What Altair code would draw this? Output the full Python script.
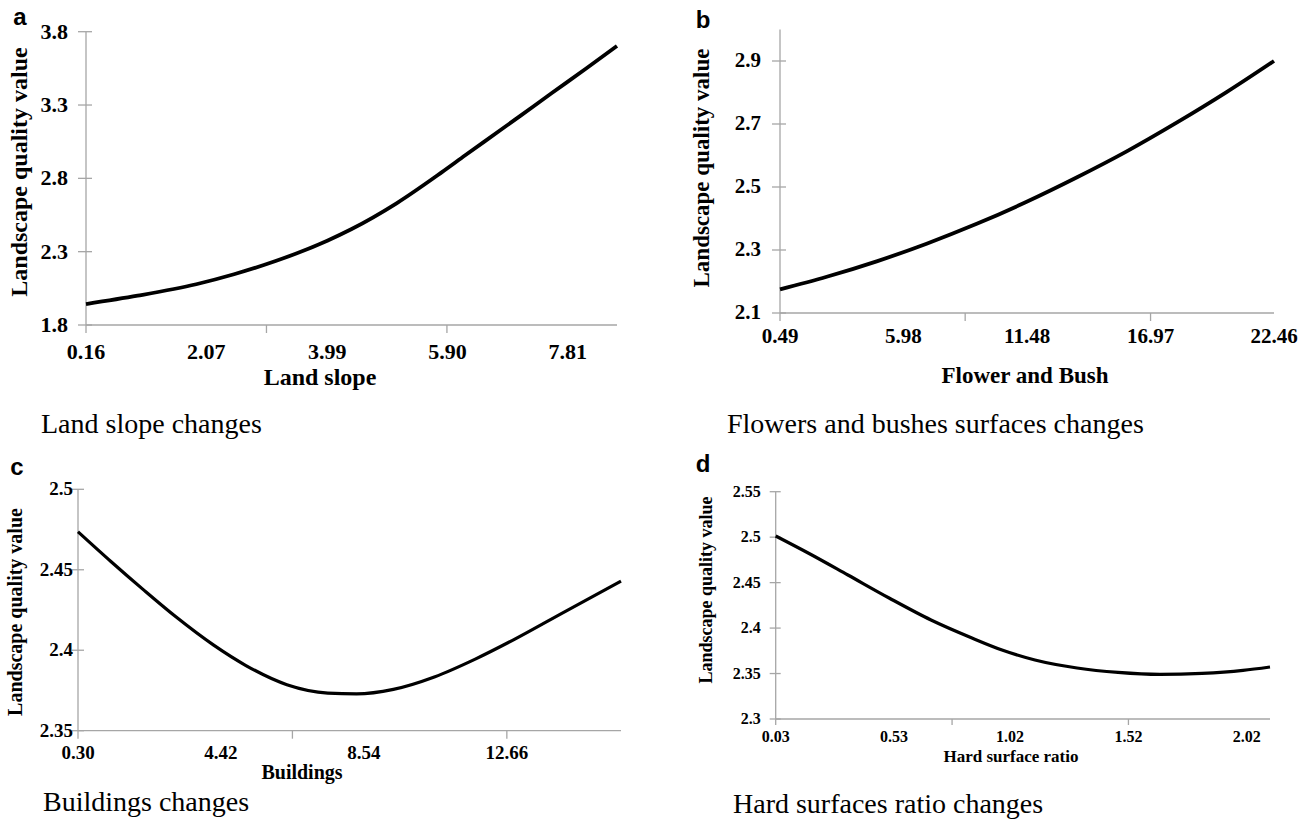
import altair as alt
import pandas as pd

W, H = 1312, 824
SERIF = "Liberation Serif"
SANS = "Liberation Sans"
GRAY = "#a6a6a6"

# ---------------- data ----------------
# a: Land slope
a_x = [0.16, 0.98, 1.91, 2.51, 3.17, 3.99, 4.37, 5.09, 5.80, 6.18, 6.73, 7.06, 7.55, 8.10, 8.59]
a_y = [1.943, 2.000, 2.078, 2.146, 2.236, 2.375, 2.453, 2.630, 2.839, 2.957, 3.126, 3.228, 3.380, 3.549, 3.703]
a_xlabels = [0.16, 2.07, 3.99, 5.90, 7.81]
a_xticks = [0.16, 3.025, 5.89]
a_yticks = [1.8, 2.3, 2.8, 3.3, 3.8]

# b: Flower and Bush
b_x = [0.49, 2.57, 4.79, 7.01, 9.24, 11.46, 13.68, 15.91, 18.13, 20.35, 22.46]
b_y = [2.175, 2.215, 2.264, 2.320, 2.383, 2.453, 2.530, 2.613, 2.704, 2.801, 2.9]
b_xlabels = [0.49, 5.98, 11.48, 16.97, 22.46]
b_xticks = [0.49, 8.725, 16.97]
b_yticks = [2.1, 2.3, 2.5, 2.7, 2.9]

# c: Buildings
c_x = [0.30, 1.24, 2.19, 3.13, 4.20, 5.14, 6.32, 7.50, 8.33, 9.39, 10.57, 11.75, 12.81, 14.35, 15.95]
c_y = [2.4736, 2.4553, 2.4375, 2.4206, 2.4033, 2.3905, 2.3786, 2.3734, 2.3729, 2.3757, 2.3834, 2.3945, 2.4060, 2.4242, 2.4429]
c_xlabels = [0.30, 4.42, 8.54, 12.66]
c_xticks = [0.30, 6.48, 12.66]
c_yticks = [2.35, 2.4, 2.45, 2.5]

# d: Hard surface ratio
d_x = [0.03, 0.175, 0.335, 0.509, 0.686, 0.859, 0.986, 1.125, 1.303, 1.476, 1.653, 1.831, 2.004, 2.118]
d_y = [2.5013, 2.4815, 2.4584, 2.4331, 2.4089, 2.3891, 2.3759, 2.3649, 2.3561, 2.3512, 2.349, 2.3501, 2.3534, 2.3572]
d_xlabels = [0.03, 0.53, 1.02, 1.52, 2.02]
d_xticks = [0.03, 0.775, 1.52]
d_yticks = [2.3, 2.35, 2.4, 2.45, 2.5, 2.55]

letters = ["a", "b", "c", "d"]
x_titles = ["Land slope", "Flower and Bush", "Buildings", "Hard surface ratio"]
y_title = "Landscape quality value"
captions = ["Land slope changes", "Flowers and bushes surfaces changes",
            "Buildings changes", "Hard surfaces ratio changes"]


def panel(xs, ys, xdom, ydom, xlabels, xticks, yticks, yfmt, g):
    x0, x1, ytop, ybot = g["x0"], g["x1"], g["ytop"], g["ybot"]
    sx = alt.Scale(domain=xdom, range=[x0, x1], nice=False, zero=False)
    sy = alt.Scale(domain=ydom, range=[ybot, ytop], nice=False, zero=False)
    X = lambda f: alt.X(f, scale=sx, axis=None)
    Y = lambda f: alt.Y(f, scale=sy, axis=None)

    # axis lines
    xdomain = alt.Chart(pd.DataFrame({"x": [xdom[0]], "x2": [xdom[1]]})).mark_rule(
        color=GRAY, strokeWidth=1.3).encode(x=X("x:Q"), x2="x2:Q", y=alt.value(ybot))
    ydomain = alt.Chart(pd.DataFrame({"y": [ydom[0]], "y2": [ydom[1]]})).mark_rule(
        color=GRAY, strokeWidth=1.3).encode(y=Y("y:Q"), y2="y2:Q", x=alt.value(x0))
    # tick marks
    xt = alt.Chart(pd.DataFrame({"x": xticks})).mark_rule(color=GRAY, strokeWidth=1.3).encode(
        x=X("x:Q"), y=alt.value(ybot), y2=alt.value(ybot + g["xtl"]))
    yt = alt.Chart(pd.DataFrame({"y": yticks})).mark_rule(color=GRAY, strokeWidth=1.3).encode(
        y=Y("y:Q"), x=alt.value(x0 - g["ytl"]), x2=alt.value(x0 + g["ytr"]))
    # tick labels
    xl = alt.Chart(pd.DataFrame({"x": xlabels, "t": [f"{v:.2f}" for v in xlabels]})).mark_text(
        font=SERIF, fontWeight="bold", fontSize=g["lab"], color="black", align="center",
        baseline="middle").encode(x=X("x:Q"), y=alt.value(ybot + g["xpad"]), text="t:N")
    yl = alt.Chart(pd.DataFrame({"y": yticks, "t": [format(v, yfmt) for v in yticks]})).mark_text(
        font=SERIF, fontWeight="bold", fontSize=g["lab"], color="black", align="right",
        baseline="middle").encode(y=Y("y:Q"), x=alt.value(x0 - g["ypad"]), text="t:N")
    line = alt.Chart(pd.DataFrame({"x": xs, "y": ys})).mark_line(
        color="black", strokeWidth=g["lw"], interpolate="monotone"
    ).encode(x=X("x:Q"), y=Y("y:Q"))
    return alt.layer(xdomain, ydomain, xt, yt, xl, yl, line)


def text(s, x, y, size, weight="bold", font=SERIF, align="center", angle=0, baseline="middle"):
    return alt.Chart(pd.DataFrame({"t": [s]})).mark_text(
        font=font, fontSize=size, fontWeight=weight, align=align, baseline=baseline,
        angle=angle, color="black"
    ).encode(x=alt.value(x), y=alt.value(y), text="t:N")


pa = panel(a_x, a_y, [0.16, 8.59], [1.8, 3.8], a_xlabels, a_xticks, a_yticks, ".1f",
           dict(x0=86, x1=617, ytop=31.7, ybot=325, lab=22, xpad=27, ypad=18, lw=3.8, xtl=8, ytl=8, ytr=6))
pb = panel(b_x, b_y, [0.49, 22.46], [2.1, 3.0], b_xlabels, b_xticks, b_yticks, ".1f",
           dict(x0=780, x1=1274, ytop=29.5, ybot=313, lab=21, xpad=24, ypad=19, lw=3.8, xtl=8, ytl=8, ytr=6))
pc = panel(c_x, c_y, [0.30, 15.95], [2.35, 2.5], c_xlabels, c_xticks, c_yticks, "g",
           dict(x0=78, x1=621, ytop=489.3, ybot=730.7, lab=19, xpad=22, ypad=5, lw=3.2, xtl=8, ytl=6, ytr=6))
pd_ = panel(d_x, d_y, [0.03, 2.118], [2.3, 2.55], d_xlabels, d_xticks, d_yticks, "g",
            dict(x0=775.7, x1=1270, ytop=491.7, ybot=719, lab=16, xpad=18, ypad=15, lw=3.2, xtl=6, ytl=6, ytr=5))

texts = [
    text(letters[0], 20, 25, 24, font=SANS, baseline="alphabetic"),
    text(letters[1], 703, 28, 24, font=SANS, baseline="alphabetic"),
    text(letters[2], 17, 475, 24, font=SANS, baseline="alphabetic"),
    text(letters[3], 703, 472, 24, font=SANS, baseline="alphabetic"),
    text(x_titles[0], 320, 378, 24),
    text(x_titles[1], 1025, 376, 23),
    text(x_titles[2], 302, 773, 20),
    text(x_titles[3], 1011, 757, 17),
    text(y_title, 20, 172, 24, angle=270),
    text(y_title, 702, 168, 23, angle=270),
    text(y_title, 16, 612, 20, angle=270),
    text(y_title, 707, 590, 18, angle=270),
    text(captions[0], 41, 425, 28, weight="normal", align="left"),
    text(captions[1], 727, 425, 28, weight="normal", align="left"),
    text(captions[2], 43, 803, 28, weight="normal", align="left"),
    text(captions[3], 733, 805, 28, weight="normal", align="left"),
]

chart = alt.layer(pa, pb, pc, pd_, *texts).resolve_scale(
    x="independent", y="independent"
).properties(
    width=W, height=H, padding=0, autosize=alt.AutoSizeParams(type="none"), background="white"
).configure_view(strokeWidth=0)

chart.save("out.html", embed_options={"renderer": "svg", "actions": False})
